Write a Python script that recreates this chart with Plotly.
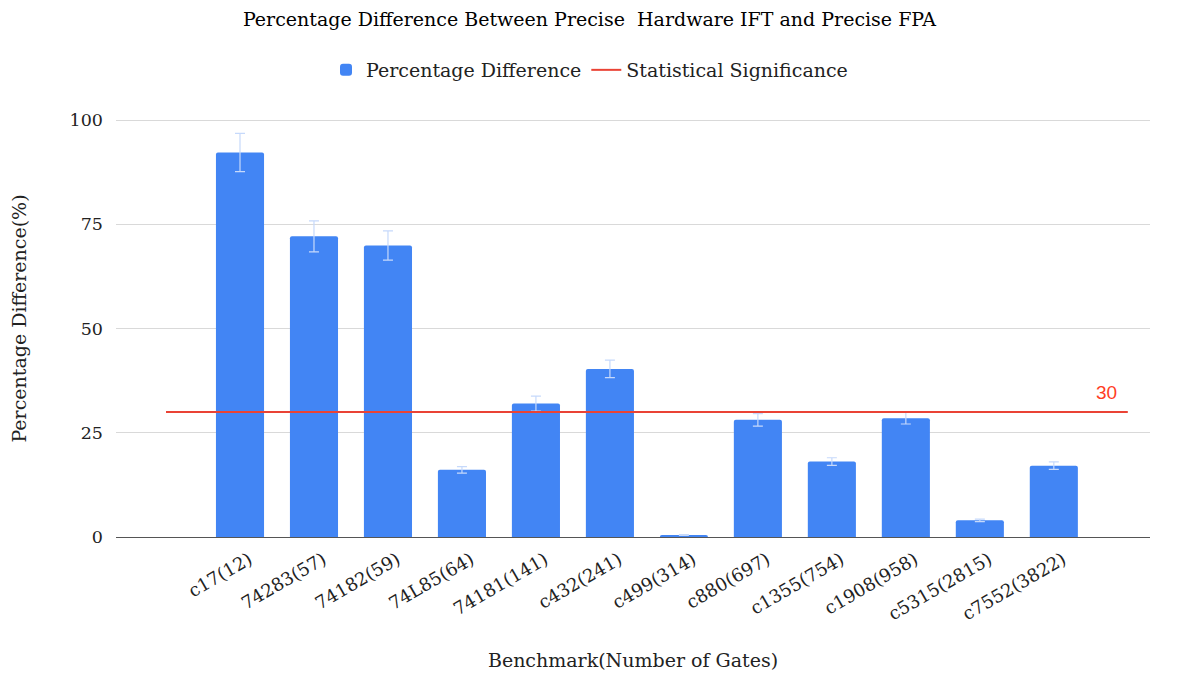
import plotly.graph_objects as go

categories = ["c17(12)", "74283(57)", "74182(59)", "74L85(64)", "74181(141)", "c432(241)",
              "c499(314)", "c880(697)", "c1355(754)", "c1908(958)", "c5315(2815)", "c7552(3822)"]
pct_diff = [92.2, 72.1, 69.9, 16.1, 32.0, 40.3, 0.5, 28.1, 18.1, 28.5, 4.0, 17.1]
pct_err = [4.6, 3.7, 3.5, 0.8, 1.8, 2.1, 0.1, 1.5, 0.9, 1.4, 0.3, 0.9]
pad_left = " "
pad_right = "  "
all_cats = [pad_left] + categories + [pad_right]
significance = [30] * len(all_cats)
y_ticks = [0, 25, 50, 75, 100]

SERIF = "DejaVu Serif, Georgia, serif"
W, H = 1163, 663

fig = go.Figure()
fig.add_trace(go.Bar(
    x=categories, y=pct_diff, name="Percentage Difference",
    marker=dict(color="#4285F4", cornerradius=2, line=dict(width=0)),
    width=0.65,
    error_y=dict(type="data", array=pct_err, visible=True, color="#c6d9fb", thickness=1.2, width=5),
))
fig.add_trace(go.Scatter(
    x=all_cats, y=significance, name="Statistical Significance", mode="lines",
    line=dict(color="#EA4335", width=2),
))
fig.add_annotation(x=all_cats[-1], y=significance[-1], text="30", showarrow=False,
                   xanchor="right", yanchor="bottom", xshift=-9, yshift=7,
                   font=dict(family="Liberation Sans, Arial, sans-serif", size=19, color="#ff3d1f"))

fig.update_layout(
    width=W, height=H,
    paper_bgcolor="white", plot_bgcolor="white",
    margin=dict(l=108, r=21, t=92, b=134, autoexpand=False),
    title=dict(text="Percentage Difference Between Precise\u00a0 Hardware IFT and Precise FPA",
               x=0.5, xanchor="center", yref="container", y=1 - 11 / H, yanchor="middle",
               font=dict(family=SERIF, size=19, color="#000")),
    legend=dict(orientation="h", xref="container", x=0.5, xanchor="center", yref="container",
                y=1 - 62 / H, yanchor="middle",
                font=dict(family=SERIF, size=19, color="#222"), itemwidth=30, bgcolor="rgba(0,0,0,0)"),
    bargap=0.35,
    showlegend=True,
)
fig.update_xaxes(
    type="category", categoryorder="array", categoryarray=all_cats,
    range=[-0.676, 13.3], tickangle=-30, automargin=False,
    tickfont=dict(family=SERIF, size=18, color="#222"),
    ticklabelshift=9, ticklabelstandoff=8,
    showgrid=False, showline=False, ticks="",
    title=dict(text="Benchmark(Number of Gates)", font=dict(family=SERIF, size=19, color="#222"), standoff=48),
)
fig.update_yaxes(
    range=[0, 104.8], tickvals=y_ticks, automargin=False,
    tickfont=dict(family=SERIF, size=17.5, color="#222"),
    showgrid=True, gridcolor="#d9d9d9", gridwidth=1,
    zeroline=True, zerolinecolor="#555", zerolinewidth=1.2,
    showline=False, ticks="", ticklabelstandoff=12,
    title=dict(text="Percentage Difference(%)", font=dict(family=SERIF, size=19, color="#222"), standoff=38),
)
fig.write_html("out.html")
